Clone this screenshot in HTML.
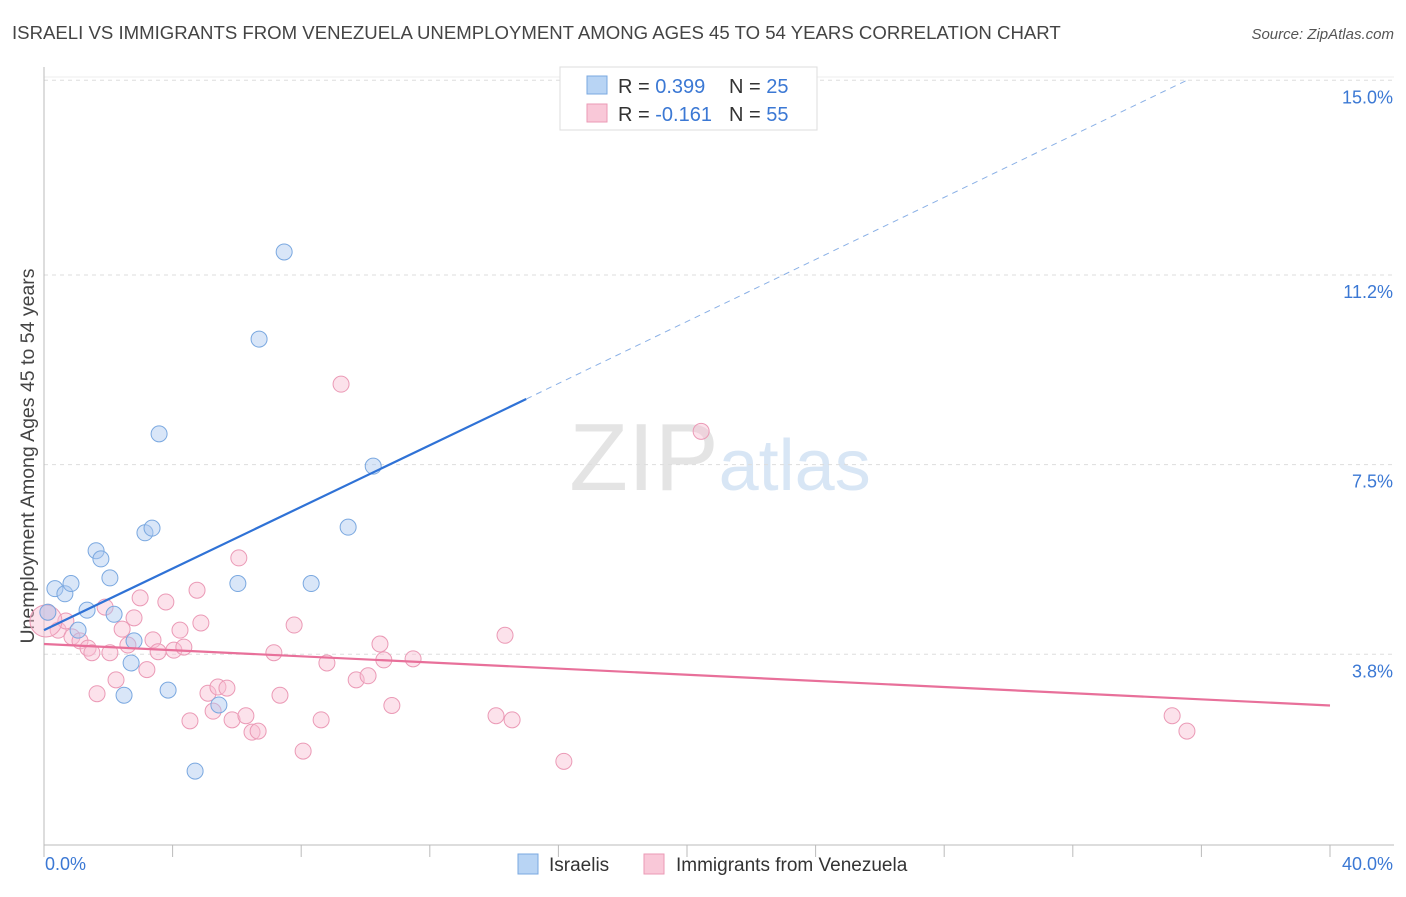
<!DOCTYPE html>
<html><head><meta charset="utf-8"><style>
body{margin:0;background:#fff;font-family:"Liberation Sans",sans-serif;}
svg text{font-family:"Liberation Sans",sans-serif;}
</style></head><body>
<svg width="1406" height="892" xmlns="http://www.w3.org/2000/svg">
<text x="12" y="39" font-size="18.6" fill="#444">ISRAELI VS IMMIGRANTS FROM VENEZUELA UNEMPLOYMENT AMONG AGES 45 TO 54 YEARS CORRELATION CHART</text>
<text x="1394" y="39" font-size="15" fill="#555" text-anchor="end" font-style="italic">Source: ZipAtlas.com</text>
<text x="720" y="490" font-size="96" fill="#e4e4e4" text-anchor="middle" font-family="Liberation Serif">ZIP<tspan fill="#d8e6f5" font-family="Liberation Sans" font-size="72">atlas</tspan></text>
<g id="grid"></g>
<g id="axes"></g>
<text transform="translate(34,456) rotate(-90)" font-size="19.5" fill="#444" text-anchor="middle">Unemployment Among Ages 45 to 54 years</text>
<g id="marks"></g>
<g>
<rect x="560" y="67" width="257" height="63" fill="#fff" stroke="#ddd"/>
<rect x="587" y="76" width="20" height="18" fill="#b8d4f4" stroke="#7aa8e0"/>
<rect x="587" y="104" width="20" height="18" fill="#f9c8d8" stroke="#eb9ab6"/>
<text x="618" y="93" font-size="20" fill="#333">R = <tspan fill="#3b78d4">0.399</tspan></text>
<text x="729" y="93" font-size="20" fill="#333">N = <tspan fill="#3b78d4">25</tspan></text>
<text x="618" y="121" font-size="20" fill="#333">R = <tspan fill="#3b78d4">-0.161</tspan></text>
<text x="729" y="121" font-size="20" fill="#333">N = <tspan fill="#3b78d4">55</tspan></text>
</g>
<g>
<rect x="518" y="854" width="20" height="20" fill="#b8d4f4" stroke="#7aa8e0"/>
<text x="549" y="871" font-size="19" fill="#333">Israelis</text>
<rect x="644" y="854" width="20" height="20" fill="#f9c8d8" stroke="#eb9ab6"/>
<text x="676" y="871" font-size="19" fill="#333">Immigrants from Venezuela</text>
</g>
<script>
const yTicks=[15.0,11.2,7.5,3.8];
const yTickLabels=["15.0%","11.2%","7.5%","3.8%"];
const xTickLabels=["0.0%","40.0%"];
const israeliX=[0.34,0.65,0.84,1.62,1.77,2.05,1.34,1.06,2.18,2.8,2.71,2.49,3.14,3.36,3.58,3.86,4.7,5.44,6.03,6.69,7.47,8.31,9.46,10.24,0.12];
const israeliY=[5.08,4.98,5.18,5.82,5.66,5.29,4.66,4.27,4.58,4.06,3.63,3.0,6.17,6.26,8.1,3.1,1.52,2.81,5.18,9.95,11.65,5.18,6.28,7.47,4.62];
const venX=[0.12,0.44,0.68,0.87,1.12,1.37,1.49,1.65,1.9,2.05,2.24,2.43,2.61,2.8,2.99,3.2,3.39,3.55,3.79,4.04,4.23,4.35,4.54,4.76,4.88,5.1,5.26,5.41,5.69,5.85,6.06,6.28,6.47,6.66,7.15,7.34,7.78,8.06,8.62,8.8,9.24,9.71,10.08,10.45,10.57,10.82,11.48,14.06,14.34,14.56,16.17,20.44,35.09,35.55,0.06];
const venY=[4.62,4.27,4.45,4.14,4.06,3.92,3.83,3.03,4.72,3.83,3.3,4.29,3.98,4.51,4.9,3.5,4.08,3.85,4.82,3.88,4.27,3.94,2.5,5.05,4.41,3.04,2.69,3.16,3.14,2.52,5.68,2.6,2.28,2.3,3.83,3.0,4.37,1.91,2.52,3.63,9.07,3.3,3.38,4.0,3.69,2.8,3.71,2.6,4.17,2.52,1.71,8.15,2.6,2.3,4.45];
const blueLine=[0.0,4.27,15.0,8.78,35.55,15.0];
const pinkLine=[0.0,4.0,40.0,2.8];
const NS="http://www.w3.org/2000/svg";
const X=v=>44+v/40*1286, Y=v=>849-v*51.25;
function mk(t,a,p){const e=document.createElementNS(NS,t);for(const k in a)e.setAttribute(k,a[k]);document.getElementById(p).appendChild(e);return e;}
yTicks.forEach((t,i)=>{const l=mk('line',{x1:44,x2:1394,y1:Y(t),y2:Y(t),stroke:'#ddd','stroke-dasharray':'4,4'},'grid');


const tx=mk('text',{x:1393,y:Y(t)+23,'font-size':18,fill:'#3b78d4','text-anchor':'end'},'axes');tx.textContent=yTickLabels[i];

});
const topLine=mk('line',{x1:44,x2:1394,y1:77,y2:77,stroke:'#eee'},'grid');
mk('line',{x1:44,x2:44,y1:67,y2:845,stroke:'#bbb'},'axes');
mk('line',{x1:44,x2:1394,y1:845,y2:845,stroke:'#bbb'},'axes');
for(let i=0;i<=10;i++){mk('line',{x1:X(i*4),x2:X(i*4),y1:845,y2:857,stroke:'#bbb'},'axes');}
const xl=mk('text',{x:45,y:870,'font-size':18,fill:'#3b78d4'},'axes');xl.textContent=xTickLabels[0];


const xr=mk('text',{x:1393,y:870,'font-size':18,fill:'#3b78d4','text-anchor':'end'},'axes');xr.textContent=xTickLabels[1];


venX.forEach((x,i)=>{const c=mk('circle',{cx:X(x),cy:Y(venY[i]),r:i==venX.length-1?16:8,fill:'rgba(249,190,210,0.45)',stroke:'#eb9ab6','stroke-width':1},'marks');

});
israeliX.forEach((x,i)=>{const c=mk('circle',{cx:X(x),cy:Y(israeliY[i]),r:8,fill:'rgba(170,200,240,0.45)',stroke:'#7aa8e0','stroke-width':1},'marks');

});
const b1=mk('line',{x1:X(blueLine[0]),y1:Y(blueLine[1]),x2:X(blueLine[2]),y2:Y(blueLine[3]),stroke:'#2f72d6','stroke-width':2.2},'marks');


const b2=mk('line',{x1:X(blueLine[2]),y1:Y(blueLine[3]),x2:X(blueLine[4]),y2:Y(blueLine[5]),stroke:'#8ab0e6','stroke-width':1,'stroke-dasharray':'6,5'},'marks');


const p1=mk('line',{x1:X(pinkLine[0]),y1:Y(pinkLine[1]),x2:X(pinkLine[2]),y2:Y(pinkLine[3]),stroke:'#e8709a','stroke-width':2.2},'marks');


</script>
</svg>
</body></html>
